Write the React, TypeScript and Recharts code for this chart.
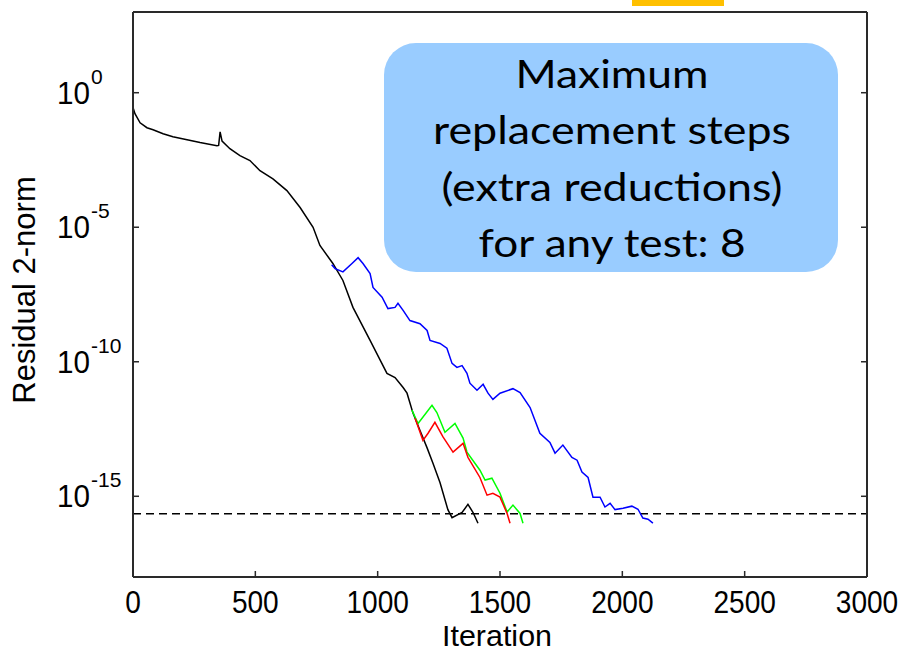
import React from "react";
import { LineChart, Line, XAxis, YAxis, ReferenceLine } from "recharts";

const xTicks = [0, 500, 1000, 1500, 2000, 2500, 3000];
const xTopTicks = [500, 1000, 1500, 2000, 2500];
const yTicks = [1e-15, 1e-10, 1e-5, 1];
const machineEps = 2.22e-16;

const blackSeries = [
  { x: 0, y: 2.8e-1 }, { x: 8, y: 1.66e-1 }, { x: 29, y: 7.6e-2 }, { x: 57, y: 5e-2 },
  { x: 82, y: 4.2e-2 }, { x: 123, y: 3e-2 }, { x: 163, y: 2.3e-2 }, { x: 221, y: 1.8e-2 },
  { x: 274, y: 1.4e-2 }, { x: 343, y: 1.07e-2 }, { x: 350, y: 1.1e-2 }, { x: 356, y: 3.5e-2 },
  { x: 364, y: 1.6e-2 }, { x: 396, y: 8.3e-3 }, { x: 437, y: 4.6e-3 }, { x: 478, y: 3e-3 },
  { x: 519, y: 1.26e-3 }, { x: 572, y: 6.3e-4 }, { x: 629, y: 2.3e-4 }, { x: 683, y: 5.4e-5 },
  { x: 736, y: 1e-5 }, { x: 764, y: 2.1e-6 }, { x: 817, y: 4.5e-7 }, { x: 858, y: 1.05e-7 },
  { x: 899, y: 1.05e-8 }, { x: 969, y: 6.2e-10 }, { x: 1038, y: 3.7e-11 }, { x: 1071, y: 2.6e-11 },
  { x: 1104, y: 1.1e-11 }, { x: 1120, y: 6.8e-12 }, { x: 1144, y: 1.26e-12 }, { x: 1173, y: 2.8e-13 },
  { x: 1202, y: 6.3e-14 }, { x: 1226, y: 1.7e-14 }, { x: 1255, y: 3.2e-15 }, { x: 1287, y: 3.2e-16 },
  { x: 1304, y: 1.6e-16 }, { x: 1345, y: 2.5e-16 }, { x: 1369, y: 5e-16 }, { x: 1390, y: 2.5e-16 },
  { x: 1410, y: 1e-16 },
];

const blueSeries = [
  { x: 812, y: 4e-7 }, { x: 826, y: 2.9e-7 }, { x: 858, y: 2.2e-7 }, { x: 895, y: 4.5e-7 },
  { x: 920, y: 7.4e-7 }, { x: 940, y: 4.5e-7 }, { x: 969, y: 1.9e-7 }, { x: 981, y: 5.8e-8 },
  { x: 1018, y: 2.5e-8 }, { x: 1042, y: 9.5e-9 }, { x: 1071, y: 1.05e-8 }, { x: 1083, y: 1.5e-8 },
  { x: 1104, y: 8.1e-9 }, { x: 1132, y: 3.4e-9 }, { x: 1173, y: 2.6e-9 }, { x: 1202, y: 1.45e-9 },
  { x: 1214, y: 6.2e-10 }, { x: 1255, y: 4.8e-10 }, { x: 1283, y: 3.2e-10 }, { x: 1304, y: 8.7e-11 },
  { x: 1324, y: 6.2e-11 }, { x: 1345, y: 7.2e-11 }, { x: 1365, y: 3.7e-11 }, { x: 1377, y: 1.6e-11 },
  { x: 1406, y: 8.7e-12 }, { x: 1431, y: 1.45e-11 }, { x: 1451, y: 6.8e-12 }, { x: 1471, y: 4e-12 },
  { x: 1500, y: 6.8e-12 }, { x: 1553, y: 1.0e-11 }, { x: 1582, y: 7.2e-12 }, { x: 1623, y: 2e-12 },
  { x: 1663, y: 2.2e-13 }, { x: 1704, y: 1.0e-13 }, { x: 1725, y: 4e-14 }, { x: 1757, y: 8e-14 },
  { x: 1794, y: 2.8e-14 }, { x: 1815, y: 2.2e-14 }, { x: 1835, y: 8e-15 }, { x: 1860, y: 5e-15 },
  { x: 1880, y: 9.3e-16 }, { x: 1909, y: 9.3e-16 }, { x: 1929, y: 4e-16 }, { x: 1950, y: 5.5e-16 },
  { x: 1970, y: 3.2e-16 }, { x: 2003, y: 3.6e-16 }, { x: 2039, y: 4.3e-16 }, { x: 2064, y: 3.3e-16 },
  { x: 2084, y: 1.55e-16 }, { x: 2105, y: 1.4e-16 }, { x: 2125, y: 1e-16 },
];

const greenSeries = [
  { x: 1140, y: 1.6e-12 }, { x: 1165, y: 5.1e-13 }, { x: 1222, y: 2.4e-12 }, { x: 1242, y: 1.3e-12 },
  { x: 1275, y: 2.4e-13 }, { x: 1316, y: 5.1e-13 }, { x: 1349, y: 1.45e-13 }, { x: 1365, y: 4.4e-14 },
  { x: 1418, y: 9.3e-15 }, { x: 1439, y: 4e-15 }, { x: 1467, y: 4.7e-15 }, { x: 1500, y: 1.3e-15 },
  { x: 1529, y: 2.6e-16 }, { x: 1553, y: 4.7e-16 }, { x: 1582, y: 2.3e-16 }, { x: 1594, y: 1e-16 },
];

const redSeries = [
  { x: 1153, y: 7.9e-13 }, { x: 1185, y: 1.2e-13 }, { x: 1206, y: 2.2e-13 }, { x: 1234, y: 5.6e-13 },
  { x: 1267, y: 1.6e-13 }, { x: 1308, y: 4.4e-14 }, { x: 1349, y: 9.3e-14 }, { x: 1369, y: 2.8e-14 },
  { x: 1418, y: 5e-15 }, { x: 1447, y: 1.1e-15 }, { x: 1471, y: 1.3e-15 }, { x: 1500, y: 9.3e-16 },
  { x: 1529, y: 2.3e-16 }, { x: 1541, y: 1e-16 },
];

const boxLines = ["Maximum", "replacement steps", "(extra reductions)", "for any test: 8"];
const boxLineWidths = [193, 358, 341, 267];

const AXIS = "#2a2a2a";
const FONT = "'Liberation Sans', Arial, sans-serif";

const BottomTick = (props: any) => {
  const { x, y, payload } = props;
  const label = String(payload.value);
  return (
    <g>
      {payload.value !== 0 && payload.value !== 3000 && (
        <line x1={x} y1={y} x2={x} y2={y - 6} stroke={AXIS} strokeWidth={1.5} />
      )}
      <text
        x={x}
        y={y + 36}
        textAnchor="middle"
        fontSize={32}
        fontFamily={FONT}
        fill="#000"
        textLength={15.6 * label.length}
        lengthAdjust="spacingAndGlyphs"
      >
        {label}
      </text>
    </g>
  );
};

const TopTick = (props: any) => {
  const { x, y } = props;
  return <line x1={x} y1={y} x2={x} y2={y + 6} stroke={AXIS} strokeWidth={1.5} />;
};

const LeftTick = (props: any) => {
  const { x, y, payload } = props;
  const exp = Math.round(Math.log10(payload.value));
  return (
    <g>
      <line x1={x} y1={y} x2={x + 6} y2={y} stroke={AXIS} strokeWidth={1.5} />
      <text x={x - 76} y={y + 11} fontSize={32} fontFamily={FONT} fill="#000" textLength={33} lengthAdjust="spacingAndGlyphs">10</text>
      <text x={x - 42} y={y - 9} fontSize={21} fontFamily={FONT} fill="#000">{String(exp)}</text>
    </g>
  );
};

const RightTick = (props: any) => {
  const { x, y } = props;
  return <line x1={x} y1={y} x2={x - 6} y2={y} stroke={AXIS} strokeWidth={1.5} />;
};

export default function App() {
  return (
    <div style={{ position: "absolute", left: 0, top: 0, width: 908, height: 653, background: "#fff" }}>
      <LineChart width={908} height={653} margin={{ top: 0, right: 0, bottom: 0, left: 0 }}>
        <XAxis
          xAxisId="b"
          dataKey="x"
          type="number"
          domain={[0, 3000]}
          ticks={xTicks}
          height={76}
          tickSize={0}
          tickMargin={0}
          tickLine={false}
          axisLine={{ stroke: AXIS, strokeWidth: 2 }}
          tick={<BottomTick />}
          interval={0}
          allowDataOverflow
        />
        <XAxis
          xAxisId="t"
          orientation="top"
          type="number"
          domain={[0, 3000]}
          ticks={xTopTicks}
          height={12}
          tickSize={0}
          tickMargin={0}
          tickLine={false}
          axisLine={{ stroke: AXIS, strokeWidth: 2 }}
          tick={<TopTick />}
          interval={0}
          allowDataOverflow
        />
        <YAxis
          yAxisId="l"
          scale="log"
          type="number"
          domain={[1e-18, 1e3]}
          ticks={yTicks}
          width={133}
          tickSize={0}
          tickMargin={0}
          tickLine={false}
          axisLine={{ stroke: AXIS, strokeWidth: 2 }}
          tick={<LeftTick />}
          interval={0}
          allowDataOverflow
        />
        <YAxis
          yAxisId="r"
          orientation="right"
          scale="log"
          type="number"
          domain={[1e-18, 1e3]}
          ticks={yTicks}
          width={41}
          tickSize={0}
          tickMargin={0}
          tickLine={false}
          axisLine={{ stroke: AXIS, strokeWidth: 2 }}
          tick={<RightTick />}
          interval={0}
          allowDataOverflow
        />
        <ReferenceLine xAxisId="b" yAxisId="l" y={machineEps} stroke="#000" strokeWidth={1.5} strokeDasharray="8 5" />
        <Line xAxisId="b" yAxisId="l" data={blackSeries} dataKey="y" type="linear" stroke="#000000" strokeWidth={1.5} dot={false} isAnimationActive={false} />
        <Line xAxisId="b" yAxisId="l" data={blueSeries} dataKey="y" type="linear" stroke="#0000ff" strokeWidth={1.5} dot={false} isAnimationActive={false} />
        <Line xAxisId="b" yAxisId="l" data={greenSeries} dataKey="y" type="linear" stroke="#00ff00" strokeWidth={1.5} dot={false} isAnimationActive={false} />
        <Line xAxisId="b" yAxisId="l" data={redSeries} dataKey="y" type="linear" stroke="#ff0000" strokeWidth={1.5} dot={false} isAnimationActive={false} />
      </LineChart>
      <svg width={908} height={653} style={{ position: "absolute", left: 0, top: 0, pointerEvents: "none" }}>
        <rect x={632} y={0} width={92} height={6} fill="#ffc000" />
        <text
          x={35}
          y={290}
          transform="rotate(-90 35 290)"
          textAnchor="middle"
          fontSize={31}
          fontFamily={FONT}
          fill="#000"
        >
          Residual 2-norm
        </text>
        <text
          x={497}
          y={646}
          textAnchor="middle"
          fontSize={29}
          fontFamily={FONT}
          fill="#000"
          textLength={110}
          lengthAdjust="spacingAndGlyphs"
        >
          Iteration
        </text>
        <rect x={384} y={43} width={454} height={229} rx={32} ry={32} fill="#99ccff" />
        {boxLines.map((t, i) => (
          <text
            key={t}
            x={612}
            y={88 + i * 56.3}
            textAnchor="middle"
            fontSize={39}
            fontFamily="Lato, 'Open Sans', sans-serif"
            fill="#000"
            textLength={boxLineWidths[i]}
            lengthAdjust="spacingAndGlyphs"
          >
            {t}
          </text>
        ))}
      </svg>
    </div>
  );
}
